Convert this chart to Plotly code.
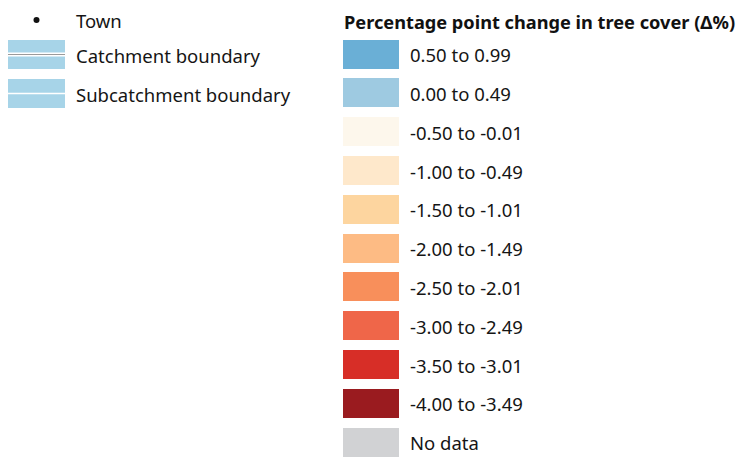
import plotly.graph_objects as go

# ---- data ----
title = "Percentage point change in tree cover (Δ%)"
class_labels = ["0.50 to 0.99", "0.00 to 0.49", "-0.50 to -0.01", "-1.00 to -0.49",
                "-1.50 to -1.01", "-2.00 to -1.49", "-2.50 to -2.01", "-3.00 to -2.49",
                "-3.50 to -3.01", "-4.00 to -3.49", "No data"]
class_colors = ["#6aafd6", "#9ecae1", "#fdf7ec", "#fee8cb", "#fdd59f", "#fdbb84",
                "#f88f5b", "#ef6649", "#d72e27", "#9a1b1f", "#d1d2d4"]
left_labels = ["Town", "Catchment boundary", "Subcatchment boundary"]
boundary_color = "#a7d4e8"

FONT = "Noto Sans"
FS = 18.5
FS_TITLE = 18.2

# layout helpers (pixel-space axes)
W, H = 742, 457
row0, step = 54.0, 38.8
sw_x0, sw_w, sw_h = 343, 56, 29
txt_x = 410
txt_dy = 3.5
left_sw_x0 = 8
left_txt_x = 76

class_y = [row0 + i * step for i in range(len(class_labels))]
left_y = [20, 54.5, 93.5]

fig = go.Figure()

# right column swatches
fig.add_trace(go.Bar(
    orientation="h", y=class_y, x=[sw_w] * len(class_y), base=[sw_x0] * len(class_y),
    width=sw_h, marker=dict(color=class_colors, line=dict(width=0)),
    hoverinfo="skip", showlegend=False))
fig.add_trace(go.Scatter(
    x=[txt_x] * len(class_y), y=[v + txt_dy for v in class_y], mode="text", text=class_labels,
    textposition="middle right", textfont=dict(family=FONT, size=FS, color="#151515"),
    hoverinfo="skip", showlegend=False, cliponaxis=False))

# left column
fig.add_trace(go.Bar(
    orientation="h", y=left_y[1:], x=[sw_w + 1] * 2, base=[left_sw_x0] * 2,
    width=sw_h, marker=dict(color=boundary_color, line=dict(width=0)),
    hoverinfo="skip", showlegend=False))
# catchment boundary: white-gray-white double line
fig.add_trace(go.Scatter(x=[left_sw_x0, left_sw_x0 + sw_w + 1], y=[left_y[1]] * 2, mode="lines",
                         line=dict(color="white", width=4), hoverinfo="skip", showlegend=False))
fig.add_trace(go.Scatter(x=[left_sw_x0, left_sw_x0 + sw_w + 1], y=[left_y[1]] * 2, mode="lines",
                         line=dict(color="#9a9a9a", width=1), hoverinfo="skip", showlegend=False))
# subcatchment boundary: thin white line
fig.add_trace(go.Scatter(x=[left_sw_x0, left_sw_x0 + sw_w + 1], y=[left_y[2]] * 2, mode="lines",
                         line=dict(color="white", width=1.5), hoverinfo="skip", showlegend=False))
# town dot
fig.add_trace(go.Scatter(x=[36.5], y=[left_y[0]], mode="markers",
                         marker=dict(color="#111111", size=6), hoverinfo="skip", showlegend=False))
fig.add_trace(go.Scatter(
    x=[left_txt_x] * 3, y=[v + txt_dy for v in left_y], mode="text", text=left_labels,
    textposition="middle right", textfont=dict(family=FONT, size=FS, color="#151515"),
    hoverinfo="skip", showlegend=False, cliponaxis=False))

fig.add_annotation(x=sw_x0 - 1, y=22, xref="x", yref="y", text="<b>" + title + "</b>",
                   showarrow=False, xanchor="left", yanchor="middle",
                   font=dict(family=FONT, size=FS_TITLE, color="#111111"))

fig.update_layout(
    width=W, height=H, margin=dict(l=0, r=0, t=0, b=0),
    paper_bgcolor="white", plot_bgcolor="white",
    xaxis=dict(range=[0, W], visible=False, fixedrange=True),
    yaxis=dict(range=[H, 0], visible=False, fixedrange=True),
    barmode="overlay", bargap=0,
)

fig.write_html("out.html", config={"displayModeBar": False},
               post_script="document.body.style.margin='0';")
